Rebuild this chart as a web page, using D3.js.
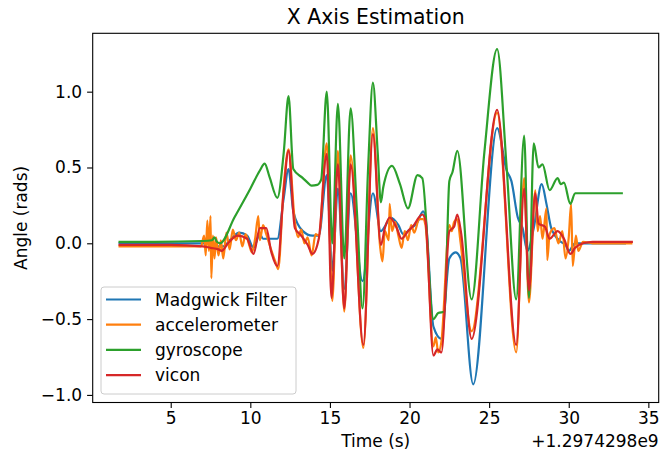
<!DOCTYPE html>
<html lang="en">

<head>
    <meta charset="UTF-8">
    <title>X Axis Estimation</title>
    <script src="https://cdn.jsdelivr.net/npm/d3@7"></script>
    <style>
        body { margin: 0; background: #fff; }
        svg { font-family: "DejaVu Sans", sans-serif; }
    </style>
</head>

<body>
    <div id="container"></div>

    <script>
        // time is seconds after the offset shown at the bottom right
        const timeOffset = "+1.2974298e9"
        const xTicks = [5, 10, 15, 20, 25, 30, 35]
        const yTicks = [-1.0, -0.5, 0.0, 0.5, 1.0]
        const seriesNames = ["Madgwick Filter", "accelerometer", "gyroscope", "vicon"]

        const madgwickT = [1.72, 5.0, 7.3, 7.8, 8.3, 8.8, 9.3, 9.8, 10.2, 10.6, 10.8, 11.7, 12.1, 12.4, 12.7, 13.3, 13.9, 14.3, 14.8, 15.15, 15.5, 15.9, 16.3, 17.05, 17.7, 18.2, 18.5, 18.8, 19.3, 19.6, 20.0, 20.5, 20.85, 21.0, 21.5, 22.0, 22.5, 22.9, 23.2, 24.0, 25.5, 26.1, 26.4, 26.8, 27.1, 27.4, 27.8, 28.3, 28.6, 28.9, 29.5, 29.8, 30.0, 30.4, 33.6]
        const madgwickV = [0.0, 0.0, 0.0, -0.02, -0.02, 0.03, 0.07, 0.05, -0.03, 0.06, 0.03, 0.03, 0.30, 0.49, 0.21, 0.08, 0.05, 0.05, 0.45, -0.18, 0.36, -0.30, 0.33, -0.25, 0.33, 0.08, 0.12, 0.17, 0.12, 0.06, 0.09, 0.14, 0.21, 0.17, -0.55, -0.63, -0.10, -0.06, -0.10, -0.93, 0.76, 0.48, 0.41, 0.17, 0.10, -0.05, 0.10, 0.39, 0.26, 0.10, 0.01, -0.01, -0.05, 0.0, 0.0]

        const accelT = [1.72, 5.0, 6.9, 7.1, 7.2, 7.3, 7.4, 7.5, 7.55, 7.65, 7.75, 7.85, 8.0, 8.15, 8.3, 8.5, 8.7, 8.9, 9.1, 9.3, 9.5, 9.7, 9.9, 10.1, 10.3, 10.5, 10.6, 10.8, 11.0, 11.3, 11.6, 11.75, 12.1, 12.4, 12.8, 13.0, 13.2, 13.4, 13.6, 13.85, 14.1, 14.3, 14.8, 15.15, 15.5, 15.9, 16.3, 17.1, 17.7, 18.15, 18.3, 18.45, 18.7, 18.75, 18.9, 19.1, 19.3, 19.5, 19.7, 19.9, 20.1, 20.3, 20.6, 20.85, 21.0, 21.5, 21.65, 21.8, 22.0, 22.5, 22.65, 22.8, 23.0, 23.2, 23.9, 25.5, 26.7, 27.2, 27.5, 27.9, 28.05, 28.2, 28.35, 28.6, 28.65, 28.8, 29.1, 29.35, 29.6, 29.8, 30.0, 30.15, 30.25, 30.45, 30.6, 30.9, 31.5, 34.0]
        const accelV = [-0.02, -0.02, -0.02, 0.05, -0.08, 0.15, -0.05, 0.18, -0.23, 0.05, -0.10, 0.04, -0.08, 0.02, -0.10, 0.07, -0.04, 0.09, 0.02, 0.07, -0.02, 0.06, 0.0, -0.06, 0.03, 0.18, 0.02, 0.12, 0.06, -0.04, -0.13, -0.17, 0.38, 0.62, 0.14, 0.04, 0.09, 0.0, 0.04, -0.08, 0.06, 0.05, 0.66, -0.38, 0.61, -0.45, 0.58, -0.69, 0.76, -0.02, -0.12, 0.08, 0.02, 0.26, 0.08, 0.14, 0.05, -0.03, 0.08, 0.02, 0.12, 0.07, 0.16, 0.16, 0.12, -0.68, -0.62, -0.72, -0.65, 0.12, 0.08, 0.14, 0.16, 0.01, -0.58, 0.86, -0.72, 0.43, -0.39, 0.35, 0.08, 0.18, 0.03, 0.23, -0.11, 0.06, 0.10, 0.0, 0.08, -0.10, 0.04, 0.26, -0.15, 0.05, -0.05, 0.01, 0.0, 0.0]

        const gyroT = [1.72, 4.0, 7.0, 7.6, 7.75, 7.9, 8.1, 9.0, 10.0, 10.6, 10.9, 11.2, 11.7, 12.1, 12.4, 12.7, 13.3, 13.6, 13.85, 14.2, 14.45, 14.8, 15.15, 15.5, 15.9, 16.3, 16.7, 17.05, 17.4, 17.7, 18.0, 18.2, 18.35, 18.9, 19.4, 19.9, 20.5, 20.8, 21.5, 21.8, 22.2, 22.5, 22.7, 23.0, 23.9, 24.7, 25.5, 26.1, 26.7, 27.2, 27.5, 27.8, 28.1, 28.35, 28.8, 29.3, 29.5, 29.7, 30.1, 30.4, 33.4]
        const gyroV = [0.01, 0.01, 0.015, 0.02, 0.04, 0.01, 0.0, 0.17, 0.36, 0.48, 0.525, 0.44, 0.30, 0.60, 0.97, 0.49, 0.43, 0.40, 0.38, 0.385, 0.42, 1.0, 0.0, 0.92, -0.10, 0.89, 0.20, -0.43, 0.50, 1.06, 0.60, 0.27, 0.37, 0.51, 0.39, 0.23, 0.45, 0.43, -0.50, -0.46, -0.45, 0.41, 0.47, 0.61, -0.37, 0.60, 1.28, 0.50, -0.37, 0.71, -0.36, 0.66, 0.50, 0.52, 0.35, 0.43, 0.39, 0.40, 0.26, 0.33, 0.33]

        const viconT = [1.72, 5.0, 7.0, 7.5, 8.0, 8.2, 8.6, 9.2, 9.8, 10.2, 10.6, 11.0, 11.3, 11.7, 12.1, 12.4, 12.8, 13.2, 13.6, 13.9, 14.3, 14.8, 15.1, 15.5, 15.9, 16.3, 17.1, 17.7, 18.2, 18.45, 18.75, 19.2, 19.5, 19.9, 20.2, 20.8, 21.0, 21.5, 21.75, 22.0, 22.5, 22.8, 23.0, 23.25, 23.9, 25.5, 26.7, 27.2, 27.5, 27.9, 28.1, 28.5, 28.8, 29.3, 29.7, 30.1, 30.4, 30.9, 31.5, 34.03]
        const viconV = [-0.01, -0.01, -0.02, -0.03, -0.04, -0.05, 0.0, 0.05, 0.03, -0.07, 0.10, 0.10, -0.05, -0.15, 0.35, 0.61, 0.10, 0.05, -0.01, -0.07, 0.03, 0.59, -0.36, 0.52, -0.43, 0.52, -0.67, 0.72, -0.01, 0.10, 0.17, 0.10, 0.03, 0.08, 0.11, 0.19, 0.15, -0.74, -0.70, -0.72, 0.08, 0.11, 0.19, 0.06, -0.63, 0.88, -0.67, 0.36, -0.31, 0.33, 0.13, 0.11, 0.03, 0.08, 0.03, -0.07, -0.03, 0.0, 0.01, 0.01]

        const colors = ["#1f77b4", "#ff7f0e", "#2ca02c", "#d62728"]

        const width = 671
        const height = 454
        const margin = { top: 33.3, right: 12.3, bottom: 51.5, left: 92.7 }
        const fontSize = 17

        const zip = (ts, vs) => ts.map((t, i) => ({ t, v: vs[i] }))
        const series = [
            zip(madgwickT, madgwickV),
            zip(accelT, accelV),
            zip(gyroT, gyroV),
            zip(viconT, viconV),
        ]

        const svg = d3.select('#container').append('svg')
            .attr('width', width)
            .attr('height', height)

        const x = d3.scaleLinear()
            .domain([0.10, 35.65])
            .range([margin.left, width - margin.right])

        const y = d3.scaleLinear()
            .domain([-1.05, 1.385])
            .range([height - margin.bottom, margin.top])

        const line = d3.line()
            .x(d => x(d.t))
            .y(d => y(d.v))
            .curve(d3.curveMonotoneX)

        // lines, clipped to the axes box
        svg.append('clipPath').attr('id', 'plot-clip')
            .append('rect')
            .attr('x', margin.left).attr('y', margin.top)
            .attr('width', width - margin.left - margin.right)
            .attr('height', height - margin.top - margin.bottom)

        svg.append('g')
            .attr('clip-path', 'url(#plot-clip)')
            .selectAll('path')
            .data(series)
            .join('path')
            .attr('d', line)
            .attr('fill', 'none')
            .attr('stroke', (d, i) => colors[i])
            .attr('stroke-width', 2.2)
            .attr('stroke-linejoin', 'round')

        // axes
        const xAxis = svg.append('g')
            .attr('transform', `translate(0,${height - margin.bottom})`)
            .call(d3.axisBottom(x).tickValues(xTicks).tickFormat(d3.format('d')).tickSize(5.6).tickPadding(4))

        const yAxis = svg.append('g')
            .attr('transform', `translate(${margin.left},0)`)
            .call(d3.axisLeft(y).tickValues(yTicks).tickFormat(d3.format('.1f')).tickSize(5.6).tickPadding(5))

        for (const ax of [xAxis, yAxis]) {
            ax.select('.domain').remove()
            ax.selectAll('line').attr('stroke', '#000').attr('stroke-width', 1.1)
            ax.selectAll('text')
                .attr('fill', '#000')
                .style('font-size', fontSize + 'px')
                .style('font-family', '"DejaVu Sans", sans-serif')
        }

        // frame
        svg.append('rect')
            .attr('x', margin.left).attr('y', margin.top)
            .attr('width', width - margin.left - margin.right)
            .attr('height', height - margin.top - margin.bottom)
            .attr('fill', 'none')
            .attr('stroke', '#000')
            .attr('stroke-width', 1.1)

        // title and labels
        svg.append('text')
            .attr('x', (margin.left + width - margin.right) / 2)
            .attr('y', 24)
            .attr('text-anchor', 'middle')
            .style('font-size', '20.4px')
            .text('X Axis Estimation')

        svg.append('text')
            .attr('x', (margin.left + width - margin.right) / 2)
            .attr('y', 447)
            .attr('text-anchor', 'middle')
            .style('font-size', fontSize + 'px')
            .text('Time (s)')

        svg.append('text')
            .attr('x', width - margin.right)
            .attr('y', 447)
            .attr('text-anchor', 'end')
            .style('font-size', fontSize + 'px')
            .text(timeOffset)

        svg.append('text')
            .attr('transform', `translate(27,${(margin.top + height - margin.bottom) / 2})rotate(-90)`)
            .attr('text-anchor', 'middle')
            .style('font-size', fontSize + 'px')
            .text('Angle (rads)')

        // legend
        const legend = svg.append('g')
        legend.append('rect')
            .attr('x', 101).attr('y', 287)
            .attr('width', 195).attr('height', 107)
            .attr('rx', 3)
            .attr('fill', '#fff').attr('fill-opacity', 0.8)
            .attr('stroke', '#cccccc').attr('stroke-width', 1)

        const rows = legend.selectAll('g.row')
            .data(seriesNames)
            .join('g')
            .attr('class', 'row')
            .attr('transform', (d, i) => `translate(0,${299.5 + i * 25.2})`)

        rows.append('line')
            .attr('x1', 106).attr('x2', 141)
            .attr('stroke', (d, i) => colors[i])
            .attr('stroke-width', 2.2)

        rows.append('text')
            .attr('x', 155)
            .attr('dy', '0.36em')
            .style('font-size', fontSize + 'px')
            .text(d => d)
    </script>
</body>

</html>
